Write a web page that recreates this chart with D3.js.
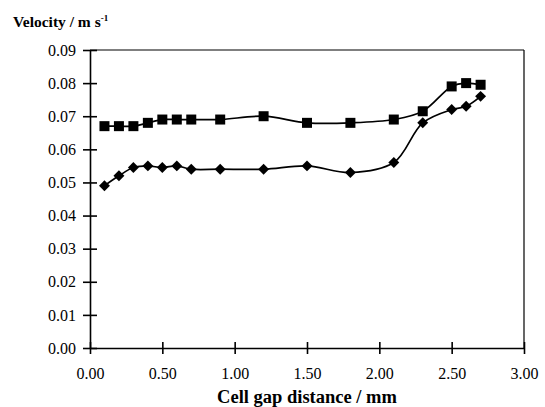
<!DOCTYPE html>
<html>
<head>
<meta charset="utf-8">
<script src="https://cdn.jsdelivr.net/npm/d3@7"></script>
<style>
  body{margin:0;background:#fff}
  text{font-family:"Liberation Serif","Times New Roman",serif;fill:#000}
</style>
</head>
<body>
<svg id="chart"></svg>
<script>
// gap distance (mm)
const gap = [0.1,0.2,0.3,0.4,0.5,0.6,0.7,0.9,1.2,1.5,1.8,2.1,2.3,2.5,2.6,2.7]
// velocity series (m/s)
const squares = [0.067,0.067,0.067,0.068,0.069,0.069,0.069,0.069,0.070,0.068,0.068,0.069,0.0715,0.079,0.080,0.0795]
const diamonds = [0.049,0.052,0.0545,0.055,0.0545,0.055,0.054,0.054,0.054,0.055,0.053,0.056,0.068,0.072,0.073,0.076]
const xTicks = [0,0.5,1,1.5,2,2.5,3]
const yTicks = [0,0.01,0.02,0.03,0.04,0.05,0.06,0.07,0.08,0.09]

const W = 545, H = 407
const padL = 90, padR = 524, padT = 50, padB = 348
const serif = '"Liberation Serif","Times New Roman",serif'

const svg = d3.select('#chart').attr('width',W).attr('height',H)

const x = d3.scaleLinear().domain([0,3]).range([padL,padR])
const y = d3.scaleLinear().domain([0,0.09]).range([padB,padT])

// frame (top + right)
svg.append('line').attr('x1',padL).attr('x2',padR).attr('y1',padT).attr('y2',padT)
  .attr('stroke','#000').attr('stroke-width',1.2)
svg.append('line').attr('x1',padR).attr('x2',padR).attr('y1',padT).attr('y2',padB)
  .attr('stroke','#000').attr('stroke-width',1.2)

// y axis
const yAxis = d3.axisLeft(y).tickValues(yTicks).tickFormat(d3.format('.2f'))
  .tickSizeInner(7).tickSizeOuter(0).tickPadding(7)
const yG = svg.append('g').attr('transform',`translate(${padL},0)`).call(yAxis)
yG.selectAll('.tick line').attr('x2',7).attr('x1',-7)
// x axis
const xAxis = d3.axisBottom(x).tickValues(xTicks).tickFormat(d3.format('.2f'))
  .tickSizeInner(6).tickSizeOuter(0).tickPadding(14)
const xG = svg.append('g').attr('transform',`translate(0,${padB})`).call(xAxis)
xG.selectAll('.tick line').attr('y1',-6).attr('y2',6)

;[xG,yG].forEach(g=>g.attr('font-family',serif).attr('font-size',16))
svg.selectAll('.domain').attr('stroke','#000').attr('stroke-width',1.6)
svg.selectAll('.tick line').attr('stroke','#000').attr('stroke-width',1.6)
svg.selectAll('.tick text').style('font-size','16px').attr('fill','#000')
  .style('font-family',serif)

// titles
const yt = svg.append('text').attr('x',13).attr('y',27).style('font-family',serif)
  .style('font-size','15.5px').style('font-weight','bold')
yt.append('tspan').text('Velocity / m s')
yt.append('tspan').text('-1').attr('dy',-6).style('font-size','9px')
svg.append('text').attr('x',(padL+padR)/2).attr('y',403).attr('text-anchor','middle')
  .style('font-family',serif)
  .style('font-size','18.5px').style('font-weight','bold').text('Cell gap distance / mm')

const line = d3.line().x((d,i)=>x(gap[i])).y(d=>y(d)).curve(d3.curveCatmullRom.alpha(0.5))

;[squares,diamonds].forEach(s=>{
  svg.append('path').datum(s).attr('d',line).attr('fill','none')
    .attr('stroke','#000').attr('stroke-width',1.7)
})

svg.selectAll('.sq').data(squares).enter().append('rect').attr('class','sq')
  .attr('x',(d,i)=>x(gap[i])-5).attr('y',d=>y(d)-5)
  .attr('width',10).attr('height',10).attr('fill','#000')

// square diamond marker
const diamondShape = {draw(ctx,size){
  const r = Math.sqrt(size/2)
  ctx.moveTo(0,-r); ctx.lineTo(r,0); ctx.lineTo(0,r); ctx.lineTo(-r,0); ctx.closePath()
}}
const dsym = d3.symbol().type(diamondShape).size(60)
svg.selectAll('.di').data(diamonds).enter().append('path').attr('class','di')
  .attr('transform',(d,i)=>`translate(${x(gap[i])},${y(d)})`)
  .attr('d',dsym).attr('fill','#000')
</script>
</body>
</html>
